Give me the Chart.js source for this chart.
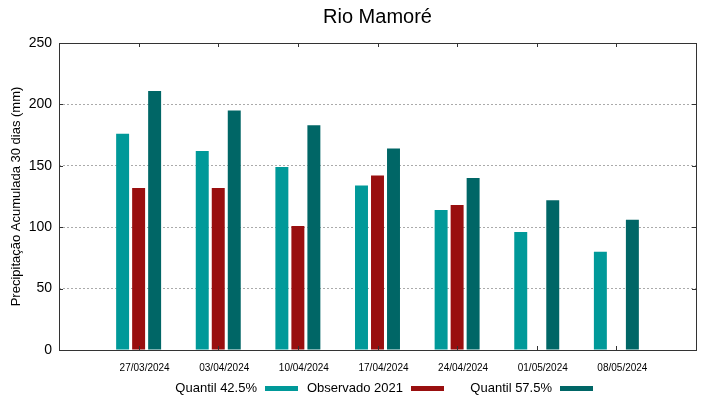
<!DOCTYPE html>
<html lang="pt-br">
<head>
<meta charset="UTF-8">
<title>Rio Mamoré</title>
<script src="https://cdn.jsdelivr.net/npm/chart.js"></script>
<style>
  html, body { margin: 0; padding: 0; background: #fff; }
  #wrap { width: 719px; height: 399px; }
</style>
</head>
<body>
<div id="wrap"><canvas id="grafico" width="719" height="399"></canvas></div>

<script>
// dados
var datas = ['27/03/2024', '03/04/2024', '10/04/2024', '17/04/2024', '24/04/2024', '01/05/2024', '08/05/2024'];
var quantil425 = [176, 162, 149, 134, 114, 96, 80];
var observado2021 = [132, 132, 101, 142, 118, null, null];
var quantil575 = [211, 195, 183, 164, 140, 122, 106];
var yTicks = [0, 50, 100, 150, 200, 250];

var titulo = 'Rio Mamoré';
var nomes = ['Quantil 42.5%', 'Observado 2021', 'Quantil 57.5%'];
var cores = ['rgb(0,153,153)', 'rgb(153,15,15)', 'rgb(0,102,102)'];

// categorias vazias nas pontas para deixar espaço igual ao gnuplot
var labels = [''].concat(datas, ['']);
function pad(arr) { return [null].concat(arr, [null]); }

var fonte = '"Liberation Sans", Arial, sans-serif';

// titulo, moldura, marcas e legenda desenhados a mao
var extras = {
  id: 'extras',
  afterDatasetsDraw: function (chart) {
    var ctx = chart.ctx;
    var a = chart.chartArea;
    var x = chart.scales.x;
    var y = chart.scales.y;
    ctx.save();
    ctx.strokeStyle = '#333';
    ctx.lineWidth = 1;
    ctx.strokeRect(Math.round(a.left) + 0.5, Math.round(a.top) + 0.5,
      Math.round(a.right - a.left), Math.round(a.bottom - a.top));
    // marcas do eixo x (para dentro)
    ctx.beginPath();
    for (var i = 1; i < labels.length - 1; i++) {
      var px = Math.round(x.getPixelForTick(i)) + 0.5;
      ctx.moveTo(px, a.bottom); ctx.lineTo(px, a.bottom - 4);
      ctx.moveTo(px, a.top); ctx.lineTo(px, a.top + 4);
    }
    // marcas do eixo y (para dentro, dos dois lados)
    yTicks.forEach(function (v) {
      var py = Math.round(y.getPixelForValue(v)) + 0.5;
      ctx.moveTo(a.left, py); ctx.lineTo(a.left + 4, py);
      ctx.moveTo(a.right, py); ctx.lineTo(a.right - 4, py);
    });
    ctx.stroke();
    ctx.restore();
  },
  afterDraw: function (chart) {
    var ctx = chart.ctx;
    var a = chart.chartArea;
    ctx.save();
    ctx.fillStyle = '#000';
    ctx.font = '20px ' + fonte;
    ctx.textAlign = 'center';
    ctx.textBaseline = 'middle';
    ctx.fillText(titulo, (a.left + a.right) / 2, 17);

    // legenda: texto e depois a amostra
    var posTexto = [257, 403, 552];
    ctx.font = '13px ' + fonte;
    ctx.textAlign = 'right';
    for (var i = 0; i < nomes.length; i++) {
      ctx.fillStyle = '#000';
      ctx.fillText(nomes[i], posTexto[i], 388);
      ctx.fillStyle = cores[i];
      ctx.fillRect(posTexto[i] + 8, 386, 33, 5);
    }
    ctx.restore();
  }
};

function montaDataset(nome, dados, cor) {
  return {
    label: nome,
    data: pad(dados),
    backgroundColor: cor,
    borderColor: cor,
    borderWidth: 0,
    barPercentage: 0.81,
    categoryPercentage: 0.603
  };
}

new Chart(document.getElementById('grafico'), {
  type: 'bar',
  data: {
    labels: labels,
    datasets: [
      montaDataset(nomes[0], quantil425, cores[0]),
      montaDataset(nomes[1], observado2021, cores[1]),
      montaDataset(nomes[2], quantil575, cores[2])
    ]
  },
  options: {
    responsive: false,
    animation: false,
    layout: { padding: { top: 43, right: 23, bottom: 0, left: 0 } },
    plugins: {
      legend: { display: false },
      title: { display: false },
      tooltip: { enabled: false }
    },
    scales: {
      x: {
        offset: false,
        grid: { display: false },
        border: { display: false },
        ticks: {
          color: '#000',
          font: { family: fonte, size: 10 },
          maxRotation: 0,
          autoSkip: false,
          labelOffset: 6,
          padding: 4
        },
        afterFit: function (s) { s.height = 49; }
      },
      y: {
        min: 0,
        max: 250,
        afterBuildTicks: function (s) { s.ticks = yTicks.map(function (v) { return { value: v }; }); },
        grid: {
          color: function (c) { return (c.tick && (c.tick.value === 0 || c.tick.value === 250)) ? 'rgba(0,0,0,0)' : '#aaa'; },
          drawTicks: false
        },
        border: { display: false, dash: [2, 2] },
        ticks: {
          color: '#000',
          font: { family: fonte, size: 14 },
          padding: 7
        },
        title: {
          display: true,
          text: 'Precipitação Acumulada 30 dias (mm)',
          color: '#000',
          font: { family: fonte, size: 13 },
          padding: { top: 9, bottom: 0 }
        },
        afterFit: function (s) { s.width = 59; }
      }
    }
  },
  plugins: [extras]
});
</script>
</body>
</html>
